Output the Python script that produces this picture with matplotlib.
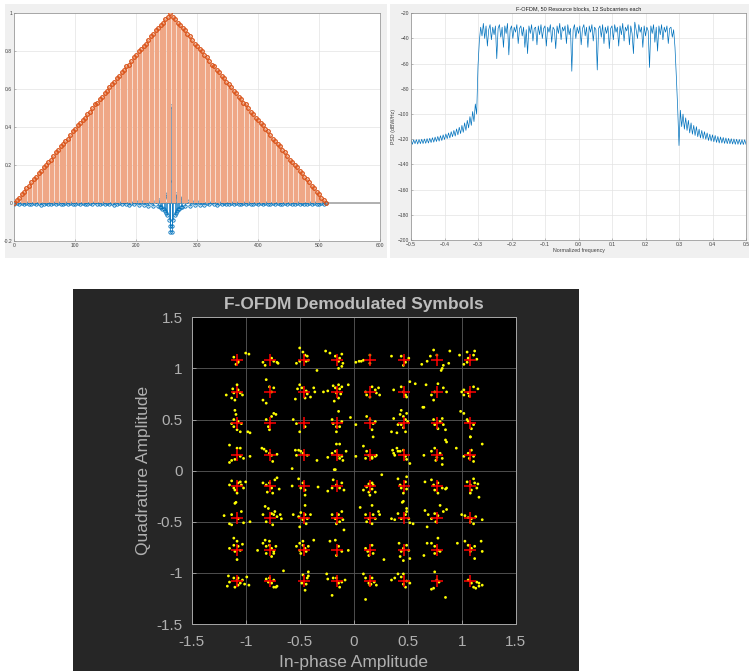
"""
Three MATLAB-style panels: filter taps vs. triangular window (stem),
F-OFDM PSD, and the demodulated 64-QAM constellation on a dark figure.
"""

import numpy as np
import matplotlib.pyplot as plt
from matplotlib.patches import Rectangle

W_PX, H_PX = 749, 671

# ---------------------------------------------------------------- stem panel
# triangular window, read every 4th sample (0..512)
window_rise = [
    0.00, 0.02, 0.03, 0.05, 0.06, 0.08, 0.09, 0.11, 0.13, 0.14,
    0.16, 0.17, 0.19, 0.20, 0.22, 0.23, 0.25, 0.27, 0.28, 0.30,
    0.31, 0.33, 0.34, 0.36, 0.38, 0.39, 0.41, 0.42, 0.44, 0.45,
    0.47, 0.48, 0.50, 0.52, 0.53, 0.55, 0.56, 0.58, 0.59, 0.61,
    0.63, 0.64, 0.66, 0.67, 0.69, 0.70, 0.72, 0.73, 0.75, 0.77,
    0.78, 0.80, 0.81, 0.83, 0.84, 0.86, 0.88, 0.89, 0.91, 0.92,
    0.94, 0.95, 0.97, 0.98, 1.00,
]
window_fall = [
    0.98, 0.97, 0.95, 0.94, 0.92, 0.91, 0.89, 0.88, 0.86, 0.84,
    0.83, 0.81, 0.80, 0.78, 0.77, 0.75, 0.73, 0.72, 0.70, 0.69,
    0.67, 0.66, 0.64, 0.63, 0.61, 0.59, 0.58, 0.56, 0.55, 0.53,
    0.52, 0.50, 0.48, 0.47, 0.45, 0.44, 0.42, 0.41, 0.39, 0.38,
    0.36, 0.34, 0.33, 0.31, 0.30, 0.28, 0.27, 0.25, 0.23, 0.22,
    0.20, 0.19, 0.17, 0.16, 0.14, 0.13, 0.11, 0.09, 0.08, 0.06,
    0.05, 0.03, 0.02, 0.00,
]

# filter taps: tails every 4th sample, centre every sample
taps_left_tail = [
    -0.004, 0.003, -0.006, 0.002, -0.005, 0.004, -0.003, -0.006, 0.002, -0.004,
    0.003, -0.007, -0.002, 0.004, -0.005, -0.003, 0.002, -0.006, 0.003, -0.004,
    -0.005, 0.002, -0.003, 0.004, -0.006, -0.002, 0.003, -0.005, 0.004, -0.004,
    -0.006, 0.002, -0.003, 0.005, -0.005, -0.004, 0.003, -0.006, 0.002, -0.005,
    0.004, -0.007, -0.003, 0.003, -0.006, 0.005, -0.004, -0.008, 0.004, -0.006,
    0.006, -0.009, 0.005, -0.010, 0.007, -0.012, 0.008, -0.014, 0.010, -0.016,
]
taps_centre = [
    0.02, -0.02, 0.02, -0.02, 0.03, -0.03, 0.03, -0.03, 0.04, -0.04,
    0.05, -0.05, 0.04, -0.06, 0.03, -0.09, 0.12, -0.12, -0.15, 0.51,
    -0.15, -0.12, 0.12, -0.09, 0.03, -0.06, 0.04, -0.05, 0.05, -0.04,
    0.04, -0.03, 0.03, -0.03, 0.03, -0.02, 0.02, -0.02, 0.02,
]
taps_right_tail = [
    -0.016, 0.010, -0.013, 0.008, -0.011, 0.006, -0.009, 0.005, -0.008, 0.004,
    -0.006, 0.005, -0.004, -0.007, 0.003, -0.005, 0.004, -0.006, -0.003, 0.003,
    -0.005, 0.002, -0.004, -0.006, 0.004, -0.003, 0.002, -0.005, -0.004, 0.003,
    -0.006, 0.002, -0.003, 0.004, -0.005, -0.002, 0.003, -0.006, 0.002, -0.004,
    -0.005, 0.003, -0.003, 0.004, -0.006, -0.002, 0.002, -0.005, 0.003, -0.004,
    -0.006, 0.002, -0.003, 0.004, -0.005, -0.003, 0.002, -0.004, 0.003,
]

# ----------------------------------------------------------------- PSD panel
psd_left = [
    -120.5, -124.0, -120.5, -123.5, -120.3, -123.8, -120.2, -123.5, -120.0, -123.4,
    -119.8, -123.2, -119.5, -123.0, -119.2, -122.6, -118.8, -122.3, -118.3, -121.8,
    -117.8, -121.5, -117.2, -121.0, -116.5, -120.2, -115.8, -119.5, -115.0, -119.0,
    -114.0, -118.0, -113.0, -117.5, -111.8, -116.5, -110.5, -115.5, -109.0, -114.5,
    -107.0, -113.0, -105.0, -111.0, -102.0, -109.0, -98.0, -106.0, -92.0, -100.0,
]
psd_pass = [
    -62, -42, -31, -38, -28, -40, -30, -46, -33, -29,
    -41, -31, -37, -30, -56, -32, -29, -39, -31, -47,
    -30, -36, -28, -53, -33, -30, -40, -31, -35, -29,
    -44, -32, -30, -38, -31, -47, -33, -52, -30, -36,
    -29, -42, -32, -31, -45, -30, -37, -29, -40, -32,
    -30, -46, -31, -35, -29, -43, -31, -33, -48, -30,
    -36, -28, -41, -31, -34, -30, -44, -29, -37, -32,
    -66, -33, -29, -40, -31, -36, -30, -45, -32, -29,
    -38, -31, -47, -30, -35, -29, -42, -31, -33, -65,
    -32, -30, -39, -29, -44, -31, -36, -30, -48, -32,
    -30, -41, -29, -35, -31, -46, -30, -37, -28, -42,
    -31, -34, -29, -45, -30, -36, -52, -27, -33, -40,
    -29, -35, -31, -47, -30, -38, -31, -34, -63, -30,
    -36, -29, -43, -31, -50, -30, -37, -29, -41, -31,
    -35, -30, -44, -32, -31, -39, -33, -47, -70,
]
psd_right = [
    -95.0, -125.0, -97.0, -110.0, -100.0, -112.0, -103.0, -113.0, -105.0, -115.0,
    -107.0, -116.0, -109.0, -117.0, -110.0, -118.0, -112.0, -119.0, -113.0, -119.5,
    -114.0, -120.0, -115.0, -121.0, -116.0, -121.5, -116.5, -122.0, -117.0, -122.5,
    -117.8, -123.0, -118.2, -123.0, -118.6, -123.3, -119.0, -123.5, -119.3, -123.6,
    -119.6, -123.8, -119.8, -124.0, -120.0, -124.0, -120.2, -124.2, -120.3, -124.2,
    -120.4, -124.0,
]

# ------------------------------------------------------- constellation panel
qam_levels = [-1.080, -0.772, -0.463, -0.154, 0.154, 0.463, 0.772, 1.080]

rx_row1 = [
    (-1.11, 1.11), (-1.07, 1.07), (-1.09, 1.04), (-1.07, 1.06), (-1.00, 1.15), (-0.97, 1.14),
    (-0.84, 1.06), (-0.82, 1.03), (-0.76, 1.10), (-0.71, 1.06), (-0.70, 1.05), (-0.74, 1.07),
    (-0.50, 1.20), (-0.47, 1.16), (-0.45, 1.13), (-0.43, 1.12), (-0.42, 1.08), (-0.50, 1.07),
    (-0.44, 1.07), (-0.53, 1.05), (-0.34, 0.98),
    (-0.26, 1.17), (-0.22, 1.15), (-0.17, 1.12), (-0.11, 1.14), (-0.13, 1.10), (-0.14, 1.07),
    (-0.10, 1.05), (-0.11, 1.02), (-0.14, 1.00),
    (0.02, 1.06), (0.05, 1.07), (0.09, 1.08), (0.15, 1.13), (0.15, 1.05), (0.07, 1.07),
    (0.35, 1.12), (0.44, 1.12), (0.48, 1.06), (0.51, 1.10), (0.46, 1.03),
    (0.63, 1.04), (0.68, 1.07), (0.71, 1.12), (0.74, 1.18), (0.77, 1.13), (0.83, 1.03),
    (0.82, 1.00), (0.88, 1.05), (0.89, 1.17), (0.81, 0.98),
    (0.98, 1.13), (1.05, 1.16), (1.12, 1.17), (1.11, 1.13), (1.14, 1.09), (1.06, 1.10),
    (1.02, 1.04), (1.05, 1.06),
]
rx_row2 = [
    (-1.18, 0.74), (-1.13, 0.71), (-1.11, 0.76), (-1.08, 0.84), (-1.07, 0.79), (-1.05, 0.76),
    (-1.03, 0.74), (-1.10, 0.69), (-1.12, 0.80),
    (-0.81, 0.89), (-0.78, 0.82), (-0.84, 0.69), (-0.81, 0.66), (-0.76, 0.77), (-0.74, 0.81),
    (-0.50, 0.84), (-0.48, 0.81), (-0.44, 0.78), (-0.43, 0.75), (-0.40, 0.72), (-0.45, 0.71),
    (-0.54, 0.70), (-0.37, 0.81), (-0.36, 0.77), (-0.52, 0.80),
    (-0.19, 0.83), (-0.17, 0.81), (-0.14, 0.84), (-0.11, 0.82), (-0.16, 0.76), (-0.12, 0.75),
    (-0.14, 0.71), (-0.18, 0.68), (-0.28, 0.77), (-0.05, 0.84), (-0.24, 0.78), (-0.13, 0.80),
    (0.11, 0.77), (0.12, 0.74), (0.17, 0.82), (0.20, 0.79), (0.21, 0.76), (0.24, 0.74),
    (0.23, 0.81), (0.15, 0.72),
    (0.37, 0.79), (0.44, 0.82), (0.46, 0.77), (0.49, 0.72), (0.52, 0.87), (0.57, 0.85),
    (0.65, 0.62), (0.48, 0.74),
    (0.67, 0.84), (0.72, 0.74), (0.75, 0.77), (0.78, 0.85), (0.83, 0.81), (0.86, 0.77), (0.74, 0.69),
    (1.00, 0.77), (1.02, 0.79), (1.06, 0.76), (1.11, 0.82), (1.15, 0.80), (1.07, 0.73), (1.02, 0.74),
]
rx_row3 = [
    (-1.10, 0.59), (-1.09, 0.55), (-1.11, 0.50), (-1.07, 0.48), (-1.04, 0.46), (-1.11, 0.43),
    (-1.08, 0.40), (-1.05, 0.38), (-0.98, 0.38), (-0.96, 0.37), (-1.13, 0.46),
    (-0.74, 0.56), (-0.72, 0.55), (-0.76, 0.53), (-0.79, 0.43), (-0.78, 0.40), (-0.81, 0.50),
    (-0.56, 0.50), (-0.53, 0.46), (-0.50, 0.38), (-0.45, 0.43),
    (-0.20, 0.50), (-0.19, 0.46), (-0.16, 0.43), (-0.13, 0.43), (-0.16, 0.38), (-0.14, 0.58),
    (-0.03, 0.52), (-0.11, 0.48),
    (0.02, 0.45), (0.12, 0.53), (0.15, 0.50), (0.18, 0.46), (0.17, 0.40), (0.20, 0.48), (0.18, 0.33),
    (0.37, 0.51), (0.43, 0.55), (0.44, 0.59), (0.46, 0.53), (0.48, 0.50), (0.49, 0.56),
    (0.44, 0.45), (0.46, 0.42), (0.41, 0.45), (0.35, 0.38), (0.40, 0.37), (0.48, 0.38), (0.50, 0.48),
    (0.74, 0.50), (0.75, 0.45), (0.80, 0.48), (0.83, 0.45), (0.85, 0.40), (0.78, 0.41),
    (0.82, 0.51), (0.86, 0.28), (0.64, 0.62),
    (0.99, 0.58), (1.02, 0.56), (1.06, 0.48), (1.11, 0.45), (1.09, 0.41), (1.08, 0.33), (1.05, 0.50),
]
rx_row4 = [
    (-1.15, 0.25), (-1.13, 0.10), (-1.08, 0.22), (-1.05, 0.22), (-1.05, 0.14), (-1.02, 0.12),
    (-0.96, 0.14), (-1.15, 0.08), (-1.10, 0.11),
    (-0.85, 0.22), (-0.83, 0.21), (-0.81, 0.19), (-0.78, 0.17), (-0.76, 0.15), (-0.71, 0.16), (-0.75, 0.09),
    (-0.54, 0.20), (-0.51, 0.20), (-0.49, 0.19), (-0.47, 0.17), (-0.43, 0.15), (-0.53, 0.15),
    (-0.34, 0.10), (-0.57, 0.02),
    (-0.24, 0.13), (-0.20, 0.17), (-0.17, 0.19), (-0.16, 0.26), (-0.13, 0.26), (-0.14, 0.15),
    (-0.11, 0.14), (-0.10, 0.10), (-0.07, 0.19), (-0.13, 0.12), (-0.18, 0.01),
    (0.02, 0.14), (0.09, 0.24), (0.12, 0.19), (0.14, 0.15), (0.17, 0.13), (0.20, 0.14),
    (0.21, 0.15), (0.17, 0.12), (0.11, 0.12),
    (0.36, 0.20), (0.38, 0.15), (0.40, 0.22), (0.41, 0.19), (0.43, 0.19), (0.46, 0.20),
    (0.48, 0.14), (0.49, 0.11), (0.52, 0.07), (0.37, 0.17),
    (0.65, 0.15), (0.72, 0.19), (0.75, 0.22), (0.77, 0.13), (0.80, 0.17), (0.82, 0.12),
    (0.82, 0.06), (0.76, 0.10), (0.85, 0.30), (0.95, 0.22),
    (1.02, 0.14), (1.06, 0.17), (1.09, 0.20), (1.11, 0.14), (1.11, 0.09), (1.08, 0.33),
    (1.19, 0.26), (1.07, 0.12),
]
rx_row5 = [
    (-1.13, -0.10), (-1.11, -0.17), (-1.10, -0.19), (-1.08, -0.22), (-1.07, -0.12), (-1.05, -0.11),
    (-1.04, -0.14), (-1.02, -0.17), (-1.00, -0.11), (-1.09, -0.31), (-1.15, -0.14),
    (-0.84, -0.12), (-0.81, -0.14), (-0.78, -0.12), (-0.76, -0.17), (-0.73, -0.09), (-0.71, -0.07),
    (-0.69, -0.18), (-0.80, -0.21), (-0.75, -0.22),
    (-0.57, -0.15), (-0.51, -0.08), (-0.47, -0.12), (-0.45, -0.19), (-0.45, -0.24), (-0.33, -0.16),
    (-0.49, -0.17),
    (-0.24, -0.20), (-0.20, -0.17), (-0.19, -0.09), (-0.16, -0.14), (-0.13, -0.17), (-0.11, -0.12),
    (-0.09, -0.19), (-0.17, 0.01),
    (0.09, -0.19), (0.12, -0.16), (0.14, -0.21), (0.15, -0.24), (0.17, -0.18), (0.18, -0.14),
    (0.20, -0.21), (0.17, -0.12), (0.26, -0.04), (0.14, -0.13),
    (0.41, -0.08), (0.43, -0.14), (0.44, -0.17), (0.48, -0.11), (0.49, -0.06), (0.49, -0.18),
    (0.46, -0.22), (0.45, -0.31),
    (0.66, -0.11), (0.74, -0.14), (0.75, -0.19), (0.78, -0.12), (0.82, -0.17), (0.85, -0.18),
    (0.86, -0.17), (0.78, -0.22), (0.72, -0.09),
    (1.05, -0.11), (1.08, -0.14), (1.09, -0.19), (1.11, -0.08), (1.12, -0.12), (1.14, -0.17),
    (1.16, -0.26), (1.08, -0.22), (1.15, -0.13),
]
rx_row6 = [
    (-1.20, -0.44), (-1.15, -0.52), (-1.13, -0.43), (-1.07, -0.47), (-1.04, -0.40), (-1.02, -0.51),
    (-0.96, -0.50), (-1.13, -0.53), (-1.10, -0.32),
    (-0.84, -0.43), (-0.82, -0.35), (-0.79, -0.37), (-0.76, -0.42), (-0.74, -0.43), (-0.73, -0.40),
    (-0.71, -0.45), (-0.68, -0.43), (-0.67, -0.47), (-0.75, -0.53), (-0.81, -0.50),
    (-0.56, -0.43), (-0.51, -0.45), (-0.49, -0.41), (-0.47, -0.48), (-0.45, -0.43), (-0.43, -0.47),
    (-0.40, -0.43), (-0.45, -0.34), (-0.50, -0.55), (-0.44, -0.52),
    (-0.20, -0.43), (-0.17, -0.47), (-0.14, -0.43), (-0.11, -0.40), (-0.10, -0.48), (-0.13, -0.50),
    (-0.09, -0.58), (-0.16, -0.52),
    (0.06, -0.36), (0.11, -0.43), (0.14, -0.47), (0.17, -0.34), (0.18, -0.43), (0.20, -0.47),
    (0.23, -0.40), (0.24, -0.43), (0.17, -0.52), (0.12, -0.50),
    (0.35, -0.47), (0.38, -0.48), (0.41, -0.42), (0.44, -0.47), (0.48, -0.43), (0.49, -0.40),
    (0.51, -0.47), (0.52, -0.51), (0.55, -0.52), (0.46, -0.30), (0.49, -0.37),
    (0.66, -0.39), (0.69, -0.43), (0.72, -0.47), (0.75, -0.42), (0.78, -0.44), (0.80, -0.34),
    (0.83, -0.40), (0.86, -0.38), (0.68, -0.55), (0.76, -0.50),
    (1.00, -0.43), (1.03, -0.44), (1.06, -0.46), (1.09, -0.47), (1.11, -0.52), (1.13, -0.45),
    (1.19, -0.48), (1.08, -0.50),
]
rx_row7 = [
    (-1.15, -0.76), (-1.11, -0.66), (-1.10, -0.79), (-1.08, -0.69), (-1.07, -0.74), (-1.05, -0.78),
    (-1.03, -0.72), (-1.08, -0.87), (-1.11, -0.73),
    (-0.89, -0.78), (-0.84, -0.71), (-0.82, -0.68), (-0.81, -0.74), (-0.78, -0.73), (-0.76, -0.76),
    (-0.74, -0.79), (-0.72, -0.74), (-0.74, -0.81), (-0.76, -0.84), (-0.81, -0.81), (-0.78, -0.69),
    (-0.53, -0.74), (-0.50, -0.71), (-0.47, -0.73), (-0.45, -0.76), (-0.44, -0.79), (-0.42, -0.74),
    (-0.37, -0.68), (-0.49, -0.81), (-0.47, -0.69), (-0.50, -0.78),
    (-0.22, -0.69), (-0.17, -0.68), (-0.14, -0.74), (-0.11, -0.79), (-0.05, -0.78), (-0.16, -0.83),
    (0.11, -0.76), (0.13, -0.79), (0.15, -0.78), (0.17, -0.73), (0.18, -0.81), (0.28, -0.87), (0.14, -0.83),
    (0.42, -0.71), (0.44, -0.79), (0.46, -0.76), (0.49, -0.73), (0.51, -0.78), (0.52, -0.86),
    (0.43, -0.84), (0.46, -0.88),
    (0.65, -0.83), (0.68, -0.71), (0.72, -0.71), (0.75, -0.74), (0.78, -0.66), (0.78, -0.78),
    (0.80, -0.79), (0.75, -0.81),
    (0.96, -0.71), (1.03, -0.69), (1.06, -0.73), (1.09, -0.76), (1.12, -0.74), (1.18, -0.69),
    (1.19, -0.79), (1.12, -0.86), (1.08, -0.79),
]
rx_row8 = [
    (-1.16, -1.03), (-1.15, -1.09), (-1.11, -1.05), (-1.08, -1.07), (-1.07, -1.12), (-1.07, -1.05),
    (-1.05, -1.10), (-1.03, -1.07), (-1.01, -1.11), (-0.99, -1.04), (-0.97, -1.12), (-1.17, -1.13),
    (-1.10, -1.14),
    (-0.81, -1.06), (-0.79, -1.09), (-0.76, -1.10), (-0.74, -1.07), (-0.74, -1.14), (-0.72, -1.14),
    (-0.71, -1.13), (-0.78, -1.05),
    (-0.45, -1.17), (-0.44, -1.11), (-0.42, -1.03), (-0.42, -0.99), (-0.43, -1.05), (-0.47, -1.02),
    (-0.48, -1.10), (-0.65, -0.98),
    (-0.25, -1.01), (-0.24, -1.06), (-0.19, -1.05), (-0.16, -1.05), (-0.14, -1.10), (-0.13, -1.14),
    (-0.08, -1.07), (-0.11, -1.09), (-0.20, -1.22),
    (0.09, -1.01), (0.11, -1.05), (0.14, -1.10), (0.15, -1.12), (0.17, -1.05), (0.19, -1.09),
    (0.21, -1.12), (0.11, -1.26), (0.16, -1.11),
    (0.35, -1.07), (0.38, -1.05), (0.41, -1.01), (0.44, -1.04), (0.46, -1.11), (0.48, -1.14),
    (0.49, -1.08), (0.52, -1.10), (0.46, -1.01),
    (0.75, -0.99), (0.74, -1.15), (0.77, -1.07), (0.79, -1.09), (0.85, -1.24), (0.72, -1.16),
    (1.06, -1.07), (1.09, -1.10), (1.11, -1.14), (1.13, -1.15), (1.16, -1.13), (1.19, -1.12),
    (1.16, -1.10), (1.14, -1.09),
]


def px_rect(x0, y0, x1, y1):
    """Pixel box (from top-left) -> figure fraction [left, bottom, w, h]."""
    return [x0 / W_PX, 1 - y1 / H_PX, (x1 - x0) / W_PX, (y1 - y0) / H_PX]


def matlab_light(ax, fs=3.6):
    ax.set_facecolor("white")
    ax.grid(True, color="#e3e3e3", linewidth=0.5)
    ax.set_axisbelow(True)
    for sp in ax.spines.values():
        sp.set_color("#8c8c8c")
        sp.set_linewidth(0.5)
    ax.tick_params(direction="in", length=1.5, width=0.4, colors="#8c8c8c",
                   labelcolor="#404040", labelsize=fs, pad=1.5)


plt.rcParams["font.family"] = ["Liberation Sans", "DejaVu Sans"]

fig = plt.figure(figsize=(W_PX / 100, H_PX / 100), dpi=100)
fig.patch.set_facecolor("white")

# panel backgrounds (screenshot frames), behind every axes
for box, col in [((5, 4, 387, 258), "#f0f0f0"),
                 ((390, 4, 749, 258), "#f0f0f0"),
                 ((73, 289, 579, 671), "#262626")]:
    l, b, w, h = px_rect(*box)
    fig.add_artist(Rectangle((l, b), w, h, transform=fig.transFigure,
                             facecolor=col, edgecolor="none", zorder=-10))

# ---- top left: stem plot
ax1 = fig.add_axes(px_rect(14.3, 13.3, 380, 241.3))
matlab_light(ax1)
win_n = np.arange(0, 513, 4)
win_v = np.array(window_rise + window_fall)
tap_n = np.concatenate([np.arange(0, 237, 4), np.arange(238, 277), np.arange(280, 513, 4)])
tap_v = np.array(taps_left_tail + taps_centre + taps_right_tail)

ax1.axhline(0, color="#b0b0b0", linewidth=1.4, zorder=1)
ax1.vlines(tap_n, 0, tap_v, color="#0072BD", linewidth=0.5, zorder=2)
ax1.plot(tap_n, tap_v, "o", mfc="none", mec="#0072BD", ms=2.4, mew=0.6, zorder=2)
ax1.vlines(win_n, 0, win_v, color="#EFA786", linewidth=1.75, zorder=3)
ax1.plot(win_n, win_v, "o", mfc="none", mec="#D95319", ms=2.6, mew=0.9, zorder=3)
ax1.set_xlim(0, 600)
ax1.set_ylim(-0.2, 1.0)
ax1.set_xticks(range(0, 601, 100))
ax1.set_yticks([-0.2, 0, 0.2, 0.4, 0.6, 0.8, 1])
ax1.set_yticklabels(["-0.2", "0", "0.2", "0.4", "0.6", "0.8", "1"])

# ---- top right: PSD
ax2 = fig.add_axes(px_rect(411, 13.3, 746, 240))
matlab_light(ax2)
f_all = np.concatenate([np.linspace(-0.5, -0.304, len(psd_left)),
                        np.linspace(-0.300, 0.292, len(psd_pass)),
                        np.linspace(0.296, 0.5, len(psd_right))])
psd_all = np.array(psd_left + psd_pass + psd_right, dtype=float)
ax2.plot(f_all, psd_all, color="#0072BD", linewidth=0.5)
ax2.set_xlim(-0.5, 0.5)
ax2.set_ylim(-200, -20)
ax2.set_xticks(np.round(np.arange(-0.5, 0.51, 0.1), 1))
ax2.set_yticks(range(-200, -19, 20))
ax2.set_title("F-OFDM, 50 Resource blocks, 12 Subcarriers each",
              fontsize=4, color="#202020", pad=2)
ax2.set_xlabel("Normalized frequency", fontsize=3.8, color="#404040", labelpad=1)
ax2.set_ylabel("PSD (dBW/Hz)", fontsize=3.8, color="#404040", labelpad=1)

# ---- bottom: constellation
ax3 = fig.add_axes(px_rect(191.7, 317.3, 515.7, 624))
ax3.set_facecolor("black")
rx = np.array(rx_row1 + rx_row2 + rx_row3 + rx_row4 +
              rx_row5 + rx_row6 + rx_row7 + rx_row8)
ref_i, ref_q = np.meshgrid(qam_levels, qam_levels)
ax3.scatter(rx[:, 0], rx[:, 1], s=4, c="#FFFF00", edgecolors="none", zorder=3)
ax3.plot(ref_i.ravel(), ref_q.ravel(), "+", color="#FF0000", ms=8, mew=1.1,
         linestyle="none", zorder=4)
ax3.set_xlim(-1.5, 1.5)
ax3.set_ylim(-1.5, 1.5)
ticks = [-1.5, -1, -0.5, 0, 0.5, 1, 1.5]
labels = ["-1.5", "-1", "-0.5", "0", "0.5", "1", "1.5"]
ax3.set_xticks(ticks)
ax3.set_xticklabels(labels)
ax3.set_yticks(ticks)
ax3.set_yticklabels(labels)
ax3.grid(True, color="#5a5a5a", linewidth=0.6)
ax3.set_axisbelow(True)
for sp in ax3.spines.values():
    sp.set_color("#a6a6a6")
    sp.set_linewidth(0.7)
ax3.tick_params(direction="in", length=3, width=0.6, colors="#a6a6a6",
                labelcolor="#b0b0b0", labelsize=11)
ax3.tick_params(axis="x", pad=8)
ax3.tick_params(axis="y", pad=6.5)
ax3.set_title("F-OFDM Demodulated Symbols", fontsize=12.5, fontweight="bold",
              color="#bdbdbd", pad=6)
ax3.set_xlabel("In-phase Amplitude", fontsize=12.5, color="#b0b0b0", labelpad=4)
ax3.set_ylabel("Quadrature Amplitude", fontsize=12.5, color="#b0b0b0", labelpad=4)

fig.savefig("out.png", dpi=100, facecolor=fig.get_facecolor())
